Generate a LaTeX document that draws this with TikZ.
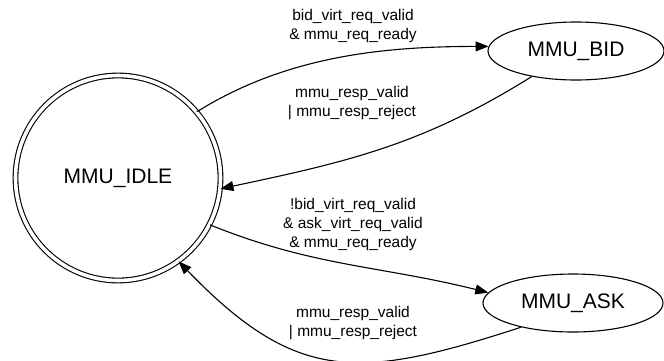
\documentclass[tikz,border=0pt]{standalone}
\usepackage{fontspec}
\setmainfont{Liberation Sans}
\usetikzlibrary{arrows.meta,shapes.geometric}
\tikzset{
  fsmstate/.style={ellipse, draw, line width=1.1pt, inner sep=0pt, minimum width=176pt, minimum height=58pt, font=\fontsize{21}{25}\selectfont},
  idlestate/.style={circle, draw, line width=1.1pt, double, double distance=3.6pt, inner sep=0pt, minimum size=205pt, font=\fontsize{21}{25}\selectfont},
  trans/.style={line width=1.1pt, -{Triangle[length=13pt, width=10pt]}},
  condlabel/.style={align=center, inner sep=0pt, font=\fontsize{15.5}{19}\selectfont}
}
\begin{document}
\begin{tikzpicture}[x=1pt, y=1pt]
    \useasboundingbox (0,0) rectangle (664,-360);
    % states
    \node[idlestate] (idle) at (118,-178) {MMU\_IDLE};
    \node[fsmstate] (bid) at (576,-51) {MMU\_BID};
    \node[fsmstate, minimum width=180pt] (ask) at (573,-303) {MMU\_ASK};
    % transitions
    \draw[trans] (idle.40) to[out=32, in=180, looseness=0.9] (bid.177);
    \draw[trans] (bid.210) to[out=212, in=12] (idle.-6);
    \draw[trans] (idle.-27) to[out=-22, in=166] (ask.173);
    \draw[trans] (ask.205) to[out=198, in=-46, looseness=1.25] (idle.-54);
    % conditions
    \node[condlabel] (lbidreq) at (353,-26) {bid\_virt\_req\_valid\\\& mmu\_req\_ready};
    \node[condlabel] (lbidresp) at (352,-103) {mmu\_resp\_valid\\| mmu\_resp\_reject};
    \node[condlabel] (laskreq) at (353,-224) {!bid\_virt\_req\_valid\\\& ask\_virt\_req\_valid\\\& mmu\_req\_ready};
    \node[condlabel] (laskresp) at (353,-323) {mmu\_resp\_valid\\| mmu\_resp\_reject};
\end{tikzpicture}
\end{document}
